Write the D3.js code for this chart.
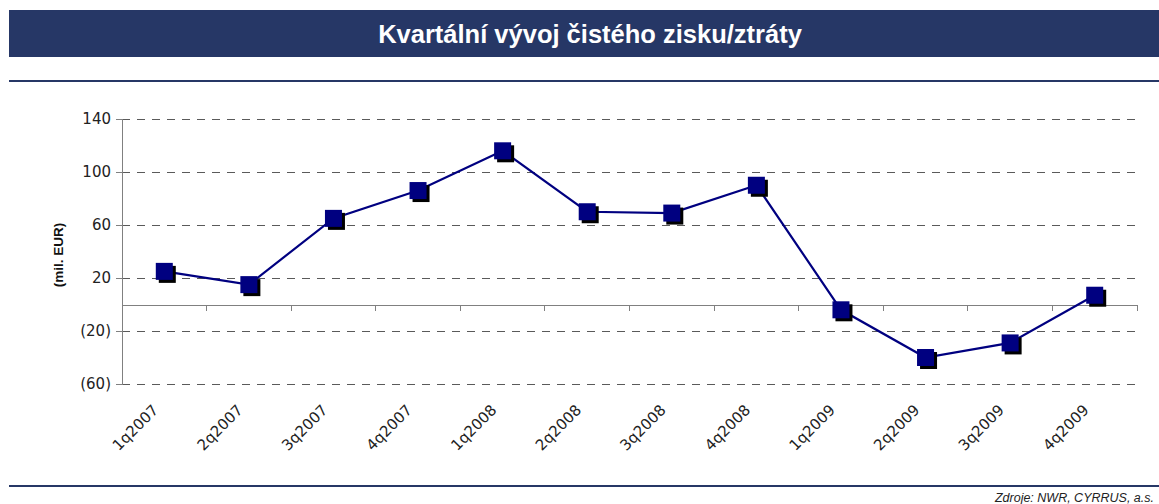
<!DOCTYPE html>
<html><head><meta charset="utf-8">
<script src="https://cdn.jsdelivr.net/npm/d3@7"></script>
<style>body{margin:0;background:#fff}svg{display:block}</style>
</head><body>
<script>
const categories = ["1q2007","2q2007","3q2007","4q2007","1q2008","2q2008","3q2008","4q2008","1q2009","2q2009","3q2009","4q2009"];
const values = [25, 15, 65, 86, 116, 70, 69, 90, -4, -40, -29, 7];
const yTicks = [-60, -20, 20, 60, 100, 140];
const title = "Kvartální vývoj čistého zisku/ztráty";
const yTitle = "(mil. EUR)";
const source = "Zdroje: NWR, CYRRUS, a.s.";

const W = 1159, H = 504;
const svg = d3.select("body").append("svg").attr("width", W).attr("height", H);
const navy = "#263766";

svg.append("rect").attr("x", 9).attr("y", 10).attr("width", W - 9).attr("height", 47).attr("fill", navy);
svg.append("text").attr("x", 590).attr("y", 43).attr("text-anchor", "middle")
  .attr("font-family", "Liberation Sans, Arial, sans-serif").attr("font-weight", "bold")
  .attr("font-size", 25.5).attr("fill", "#fff").text(title);
svg.append("rect").attr("x", 9).attr("y", 80).attr("width", W - 9).attr("height", 2).attr("fill", navy);
svg.append("rect").attr("x", 9).attr("y", 485).attr("width", W - 9).attr("height", 2).attr("fill", navy);
svg.append("text").attr("x", 1154).attr("y", 502).attr("text-anchor", "end")
  .attr("font-family", "Liberation Sans, Arial, sans-serif").attr("font-style", "italic")
  .attr("font-size", 12.5).attr("fill", "#222").text(source);

const x = d3.scaleBand().domain(categories).range([122, 1137]);
const y = d3.scaleLinear().domain([-60, 140]).range([384, 119]);
const font = "DejaVu Sans, Verdana, sans-serif";

// gridlines
svg.append("g").selectAll("line").data(yTicks).join("line")
  .attr("x1", 122).attr("x2", 1137).attr("y1", d => y(d)).attr("y2", d => y(d))
  .attr("stroke", "#5a5a5a").attr("stroke-width", 1).attr("stroke-dasharray", "8,7")
  .attr("shape-rendering", "crispEdges");

// y axis
const yAxis = svg.append("g").attr("transform", "translate(122,0)")
  .call(d3.axisLeft(y).tickValues(yTicks).tickSize(6).tickPadding(5)
    .tickFormat(d => d < 0 ? "(" + Math.abs(d) + ")" : d));
yAxis.select(".domain").attr("stroke", "#808080").attr("shape-rendering", "crispEdges");
yAxis.selectAll(".tick line").attr("stroke", "#808080").attr("shape-rendering", "crispEdges");
yAxis.selectAll("text").attr("font-family", font).attr("font-size", 15).attr("fill", "#222");

// x axis at zero
const xAxis = svg.append("g").attr("transform", `translate(0,${y(0)})`)
  .call(d3.axisBottom(x).tickSize(0).tickFormat(""));
xAxis.select(".domain").attr("stroke", "#808080").attr("shape-rendering", "crispEdges");
const edges = categories.map(c => x(c)).concat([x.range()[1]]);
svg.append("g").selectAll("line").data(edges).join("line")
  .attr("x1", d => d).attr("x2", d => d).attr("y1", y(0)).attr("y2", y(0) + 6)
  .attr("stroke", "#808080").attr("shape-rendering", "crispEdges");

// x labels rotated
svg.append("g").selectAll("text").data(categories).join("text")
  .attr("transform", d => `translate(${x(d) + x.bandwidth() / 2 - 5},${411}) rotate(-45)`)
  .attr("text-anchor", "end").attr("font-family", font).attr("font-size", 15).attr("fill", "#222")
  .text(d => d);

// y title
svg.append("text").attr("transform", "translate(63,255) rotate(-90)").attr("text-anchor", "middle")
  .attr("font-family", "Liberation Sans, Arial, sans-serif").attr("font-weight", "bold")
  .attr("font-size", 13.5).attr("fill", "#111").text(yTitle);

// line
const cx = d => x(d) + x.bandwidth() / 2;
svg.append("path").datum(values)
  .attr("d", d3.line().x((d, i) => cx(categories[i])).y(d => y(d)))
  .attr("fill", "none").attr("stroke", "#000080").attr("stroke-width", 2.2);

// markers with shadow
const s = 17;
svg.append("g").selectAll("rect").data(values).join("rect")
  .attr("x", (d, i) => cx(categories[i]) - s / 2 + 3).attr("y", d => y(d) - s / 2 + 3)
  .attr("width", s).attr("height", s).attr("fill", "#000");
svg.append("g").selectAll("rect").data(values).join("rect")
  .attr("x", (d, i) => cx(categories[i]) - s / 2).attr("y", d => y(d) - s / 2)
  .attr("width", s).attr("height", s).attr("fill", "#000080");
</script>
</body></html>
